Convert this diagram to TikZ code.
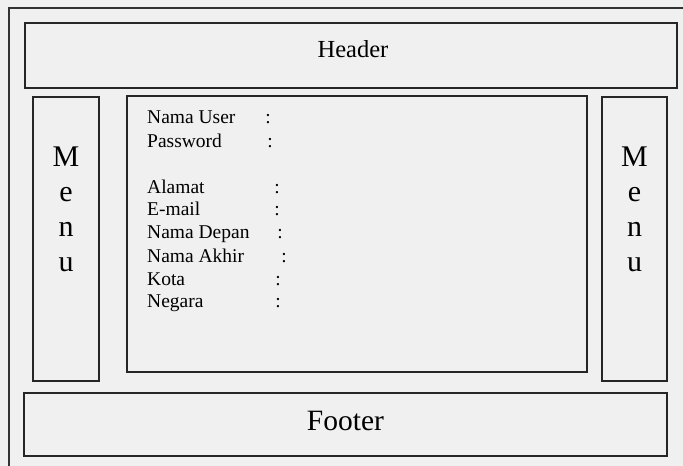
\documentclass[tikz,border=0pt]{standalone}
\usepackage{fontspec}
\setmainfont{Liberation Serif}
\usetikzlibrary{positioning}

\begin{document}
\begin{tikzpicture}[x=1pt,y=-1pt,
	pane/.style={draw=black!85,line width=1.3pt,inner sep=0pt},
	field/.style={inner sep=0pt,anchor=base west,font=\fontsize{19.5}{23}\selectfont},
	colon/.style={inner sep=0pt,anchor=base,font=\fontsize{19.5}{23}\selectfont},
	menutext/.style={inner sep=0pt,anchor=north,align=center,font=\fontsize{30}{35}\selectfont}]
		\fill[black!6] (0,0) rectangle (683,466);
		\useasboundingbox (0,0) rectangle (683,466);
		% outer frame, cut by the page on the right and at the bottom
		\draw[black!80,line width=1.1pt] (9,466) -- (9,8) -- (683,8);
		\node[pane,minimum width=652pt,minimum height=65pt] (header) at (351,55.5) {};
		\node[pane,minimum width=66pt,minimum height=284pt] (menuL) at (66,239) {};
		\node[pane,minimum width=460pt,minimum height=276pt] (form) at (357,234) {};
		\node[pane,minimum width=65pt,minimum height=284pt] (menuR) at (634.5,239) {};
		\node[pane,minimum width=643pt,minimum height=63pt] (footer) at (345.5,424.5) {};
		\node[inner sep=0pt,anchor=base,font=\fontsize{24.5}{30}\selectfont] (headertext) at (353,57) {Header};
		\node[inner sep=0pt,anchor=base,font=\fontsize{29.5}{34}\selectfont] (footertext) at (345.5,430) {Footer};
		\node[menutext] (menuLtext) at (66,147) {M\\e\\n\\u};
		\node[menutext] (menuRtext) at (634.5,147) {M\\e\\n\\u};
		\foreach \name/\cx/\by [count=\i] in {Nama User/268/123, Password/270/147, Alamat/277/193, E-mail/277/215,
				Nama Depan/280/238, Nama Akhir/284/262, Kota/278/285, Negara/278/307} {
			\node[field] (lbl\i) at (147,\by) {\name};
			\node[colon] (col\i) at (\cx,\by) {:};
		}
	\end{tikzpicture}
\end{document}
